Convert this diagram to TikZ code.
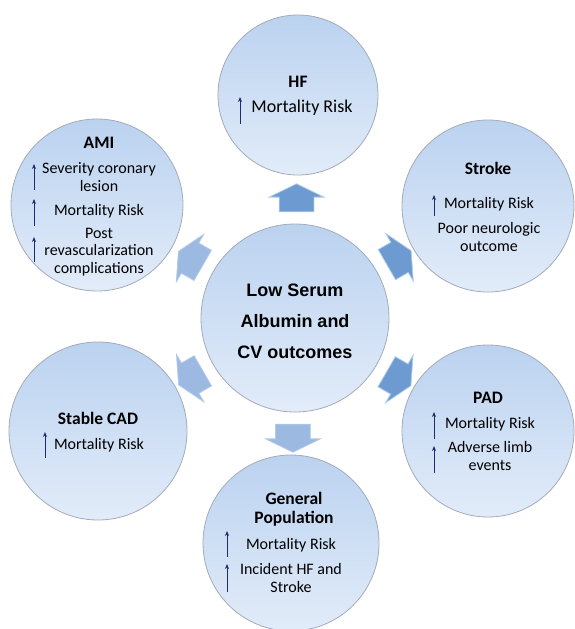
\documentclass[tikz,border=0pt]{standalone}
\usepackage{fontspec}
\setmainfont{Carlito}
\newfontfamily\arialfont{Liberation Sans}
\usetikzlibrary{shapes.arrows, calc, arrows.meta}
\definecolor{discTop}{HTML}{BBD2F0}
\definecolor{discBottom}{HTML}{E2ECF9}
\definecolor{discLine}{HTML}{A3ABB8}
\definecolor{arrowFill}{HTML}{6D9BD1}
\definecolor{arrowLight}{HTML}{9BB9E1}
\definecolor{arrowLine}{HTML}{B3CBEA}
\definecolor{upBlue}{HTML}{1C2C6E}

\begin{document}
\begin{tikzpicture}[x=1pt,y=-1pt]
		\tikzstyle{disc} = [circle,draw=discLine,line width=0.8pt,top color=discTop,bottom color=discBottom,inner sep=0pt]
		\tikzstyle{blockarrow} = [single arrow,draw=arrowLine,fill=arrowFill,line width=0.8pt,inner xsep=0pt,inner ysep=17pt,minimum height=28pt,single arrow head extend=10pt,single arrow tip angle=128]
		\tikzstyle{head} = [align=center,font=\bfseries\fontsize{17.5}{19}\selectfont]
		\tikzstyle{item} = [align=center,font=\fontsize{16}{17.5}\selectfont]
		\tikzstyle{up} = [-{Stealth[length=5pt,width=4pt]},draw=upBlue,line width=1pt]
		\useasboundingbox (0,0) rectangle (575,629);
		% circles
		\node[disc,minimum size=188pt] (n0) at (295,318) {};
		\node[disc,minimum size=160pt] (n1) at (298,95) {};
		\node[disc,minimum size=172pt] (n2) at (488,206) {};
		\node[disc,minimum size=172pt] (n3) at (488,431) {};
		\node[disc,minimum size=176pt] (n4) at (291,543) {};
		\node[disc,minimum size=178pt] (n5) at (98,431) {};
		\node[disc,minimum size=172pt] (n6) at (97,205) {};
		% block arrows
		\node[blockarrow,rotate=90] (a1) at ($(n0)!116pt!(n1)$) {};
		\node[blockarrow,rotate=30] (a2) at ($(n0)!116pt!(n2)$) {};
		\node[blockarrow,rotate=-30] (a3) at ($(n0)!116pt!(n3)$) {};
		\node[blockarrow,rotate=-90,fill=arrowLight] (a4) at ($(n0)!116pt!(n4)$) {};
		\node[blockarrow,rotate=210,fill=arrowLight] (a5) at ($(n0)!116pt!(n5)$) {};
		\node[blockarrow,rotate=150,fill=arrowLight] (a6) at ($(n0)!116pt!(n6)$) {};
		% centre
		\node[align=center,font=\arialfont\bfseries\fontsize{18}{31}\selectfont] (t0) at (295,321) {Low Serum\\Albumin and\\CV outcomes};
		% HF
		\node[head] (h1) at (298,82) {HF};
		\node[item,font=\fontsize{18}{20}\selectfont] (i11) at (302,108) {Mortality Risk};
		\draw[up] (240,124) -- (240,97);
		% Stroke
		\node[head] (h2) at (488,168) {Stroke};
		\node[item] (i21) at (489,204) {Mortality Risk};
		\node[item] (i22) at (489,237) {Poor neurologic\\outcome};
		\draw[up] (434,216) -- (434,195);
		% PAD
		\node[head] (h3) at (488,398) {PAD};
		\node[item] (i31) at (490,424) {Mortality Risk};
		\node[item] (i32) at (490,456) {Adverse limb\\events};
		\draw[up] (434,439) -- (434,412);
		\draw[up] (434,473) -- (434,446);
		% General Population
		\node[head] (h4) at (294,509) {General\\Population};
		\node[item] (i41) at (291,545) {Mortality Risk};
		\node[item] (i42) at (291,578) {Incident HF and\\Stroke};
		\draw[up] (227,557) -- (227,531);
		\draw[up] (227,592) -- (227,564);
		% Stable CAD
		\node[head] (h5) at (98,418) {Stable CAD};
		\node[item] (i51) at (99,445) {Mortality Risk};
		\draw[up] (45,458) -- (45,432);
		% AMI
		\node[head] (h6) at (99,143) {AMI};
		\node[item] (i61) at (99,177) {Severity coronary\\lesion};
		\node[item] (i62) at (99,211) {Mortality Risk};
		\node[item] (i63) at (99,252) {Post\\revascularization\\complications};
		\draw[up] (34,190) -- (34,164);
		\draw[up] (34,226) -- (34,199);
		\draw[up] (34,262) -- (34,237);
\end{tikzpicture}
\end{document}
